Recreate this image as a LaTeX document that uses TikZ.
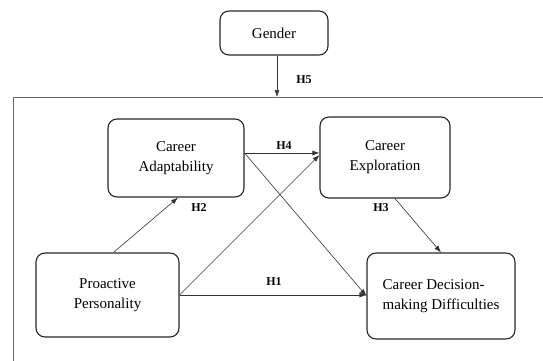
\documentclass[tikz,border=0pt]{standalone}
\usepackage{fontspec}
\setmainfont{Liberation Serif}
\usetikzlibrary{arrows.meta}

\tikzset{
	varbox/.style={draw=black!85, line width=1.1pt, rounded corners=9pt, align=center, font=\fontsize{15}{20}\selectfont, inner sep=0pt},
	hlabel/.style={font=\fontsize{12}{14}\selectfont\bfseries, inner sep=1pt},
	path/.style={draw=black!80, line width=0.6pt, -{Latex[length=7pt,width=5pt]}}
}

\begin{document}
\begin{tikzpicture}[x=1pt,y=-1pt]
			\useasboundingbox (0,0) rectangle (543,361);
			
			% outer frame
			\coordinate (fl) at (13,361);
			\coordinate (ft) at (13,97);
			\coordinate (fr) at (543,97);
			\draw[black!60, line width=0.8pt] (fl) -- (ft) -- (fr);
			
			\node[varbox, minimum width=108pt, minimum height=44pt] (gen) at (274,33) {Gender};
			\node[varbox, minimum width=136pt, minimum height=78pt] (ca) at (176,158) {Career\\Adaptability};
			\node[varbox, minimum width=130pt, minimum height=81pt] (ce) at (385,157.5) {Career\\Exploration};
			\node[varbox, minimum width=143pt, minimum height=84pt] (pp) at (107.5,295) {Proactive\\Personality};
			\node[varbox, minimum width=148pt, minimum height=86pt, align=left] (cd) at (441,296) {Career Decision-\\making Difficulties};
			
			\coordinate (g5) at (277,97);
			\path[path] ([xshift=3pt]gen.south) -- (g5);
			\node[hlabel] (h5) at (304,80) {H5};
			
			\path[path] ([yshift=5pt]ca.east) -- ([yshift=4.5pt]ce.west);
			\path[path] ([yshift=5pt]ca.east) -- (cd.west);
			\path[path] ([xshift=6pt]pp.north) -- ([xshift=2pt]ca.south);
			\path[path] (pp.east) -- ([yshift=2.5pt]ce.west);
			\path[path] (pp.east) -- ([yshift=1pt]cd.west);
			\path[path] ([xshift=10pt]ce.south) -- (cd.north);
			
			\node[hlabel] (h4) at (284,146) {H4};
			\node[hlabel] (h2) at (199,208) {H2};
			\node[hlabel] (h3) at (381,208) {H3};
			\node[hlabel] (h1) at (274,282) {H1};
			\end{tikzpicture}
\end{document}
